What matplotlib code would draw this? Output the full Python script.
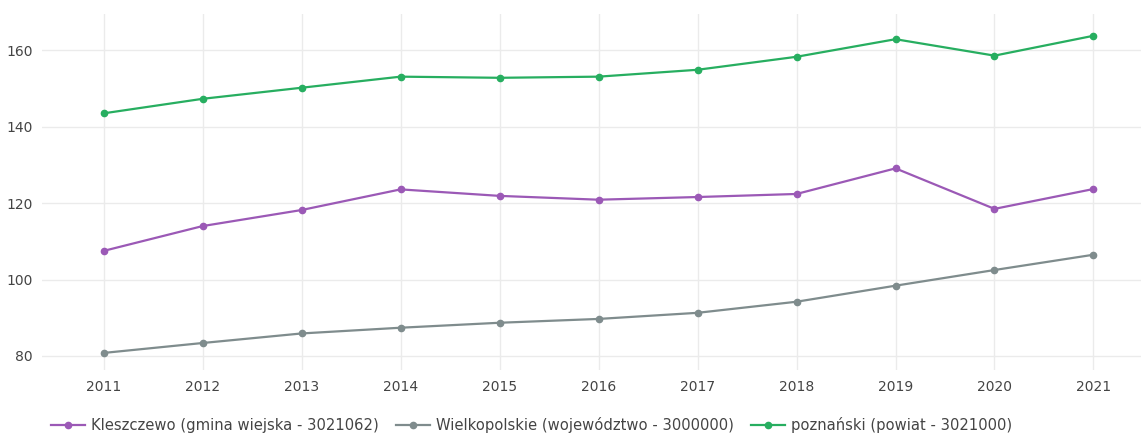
import matplotlib
matplotlib.use('Agg')
import matplotlib.pyplot as plt

years = [2011, 2012, 2013, 2014, 2015, 2016, 2017, 2018, 2019, 2020, 2021]
kleszczewo = [107.5, 114.0, 118.2, 123.6, 121.9, 120.9, 121.6, 122.4, 129.1, 118.5, 123.7]
wielkopolskie = [80.8, 83.4, 85.9, 87.4, 88.7, 89.7, 91.3, 94.2, 98.4, 102.5, 106.5]
poznanski = [143.5, 147.3, 150.2, 153.1, 152.8, 153.1, 154.9, 158.3, 162.9, 158.6, 163.8]

labels = ['Kleszczewo (gmina wiejska - 3021062)',
          'Wielkopolskie (województwo - 3000000)',
          'poznański (powiat - 3021000)']
colors = ['#9b59b6', '#7f8c8d', '#27ae60']
y_ticks = [80, 100, 120, 140, 160]

plt.rcParams['font.family'] = 'DejaVu Sans'

fig = plt.figure(figsize=(11.41, 4.37), dpi=100)
ax = fig.add_axes([0.037, 0.153, 0.963, 0.815])

for series, label, color in zip([kleszczewo, wielkopolskie, poznanski], labels, colors):
    ax.plot(years, series, color=color, linewidth=1.6, marker='o', markersize=4.5,
            label=label, zorder=3)

ax.set_xlim(2010.38, 2021.48)
ax.set_ylim(76.3, 169.5)
ax.set_xticks(years)
ax.set_yticks(y_ticks)
ax.grid(True, color='#ebebeb', linewidth=1)
ax.set_axisbelow(True)
for s in ax.spines.values():
    s.set_visible(False)
ax.tick_params(length=0, labelsize=10, colors='#444444', pad=7)

handles, lbls = ax.get_legend_handles_labels()
fig.legend(handles, lbls, loc='lower left', bbox_to_anchor=(0.033, -0.022), ncol=3,
           frameon=False, fontsize=10.6, handlelength=2.3, columnspacing=1.2,
           labelcolor='#444444', handletextpad=0.4)

fig.savefig('out.png', dpi=100, facecolor='white')
